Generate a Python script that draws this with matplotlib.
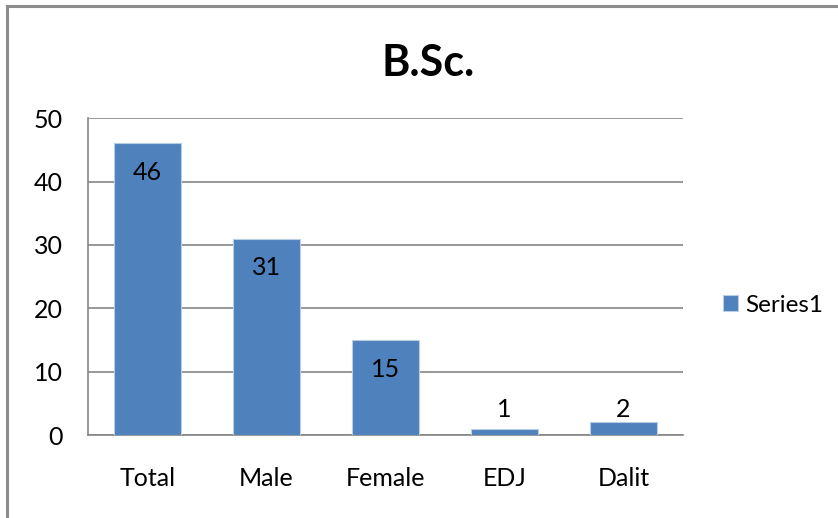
import matplotlib.pyplot as plt
from matplotlib.lines import Line2D

# Data
categories = ['Total', 'Male', 'Female', 'EDJ', 'Dalit']
values = [46, 31, 15, 1, 2]
series_name = 'Series1'
title = 'B.Sc.'
yticks = [0, 10, 20, 30, 40, 50]

BAR_COLOR = '#4F81BD'
GRID_COLOR = '#868686'
FS = 18

plt.rcParams['font.family'] = ['Lato', 'DejaVu Sans']

fig = plt.figure(figsize=(8.38, 5.18), dpi=100)
ax = fig.add_axes([0.105, 0.160, 0.710, 0.612])

x = range(len(categories))
bars = ax.bar(x, values, width=0.565, color=BAR_COLOR, edgecolor='#B9CDE5',
              linewidth=0.8, label=series_name, zorder=3)

# data labels: inside the top for tall bars, above for short ones
for rect, v in zip(bars, values):
    cx = rect.get_x() + rect.get_width() / 2
    if v >= 5:
        ax.annotate(str(v), (cx, v), xytext=(0, -21), textcoords='offset points',
                    ha='center', va='center', fontsize=FS, color='black', zorder=4)
    else:
        ax.annotate(str(v), (cx, 4), ha='center', va='center',
                    fontsize=FS, color='black', zorder=4)

ax.set_ylim(0, 50)
ax.set_xlim(-0.5, len(categories) - 0.5)
ax.set_yticks(yticks)
ax.set_xticks(list(x))
ax.set_xticklabels(categories)
ax.tick_params(axis='both', length=0, labelsize=FS)
ax.tick_params(axis='y', pad=18)
ax.tick_params(axis='x', pad=23)

ax.grid(axis='y', color=GRID_COLOR, linewidth=1.2, zorder=0)
for side in ['top', 'right']:
    ax.spines[side].set_visible(False)
for side in ['left', 'bottom']:
    ax.spines[side].set_color(GRID_COLOR)
    ax.spines[side].set_linewidth(1.2)

fig.text(0.511, 0.878, title, ha='center', va='center', fontsize=31, fontweight='bold')

ax.legend(loc='center left', bbox_to_anchor=(0.863, 0.411), bbox_transform=fig.transFigure,
          frameon=False, fontsize=FS - 0.5, handlelength=0.62, handleheight=0.62,
          handletextpad=0.3, borderaxespad=0, borderpad=0)

# outer chart border (only left and top visible)
fig.add_artist(Line2D([0.0085, 0.0085], [0, 0.988], transform=fig.transFigure,
                      color='#8C8C8C', linewidth=2.2))
fig.add_artist(Line2D([0.0085, 1.0], [0.988, 0.988], transform=fig.transFigure,
                      color='#8C8C8C', linewidth=2.2))

fig.savefig('out.png', dpi=100)
